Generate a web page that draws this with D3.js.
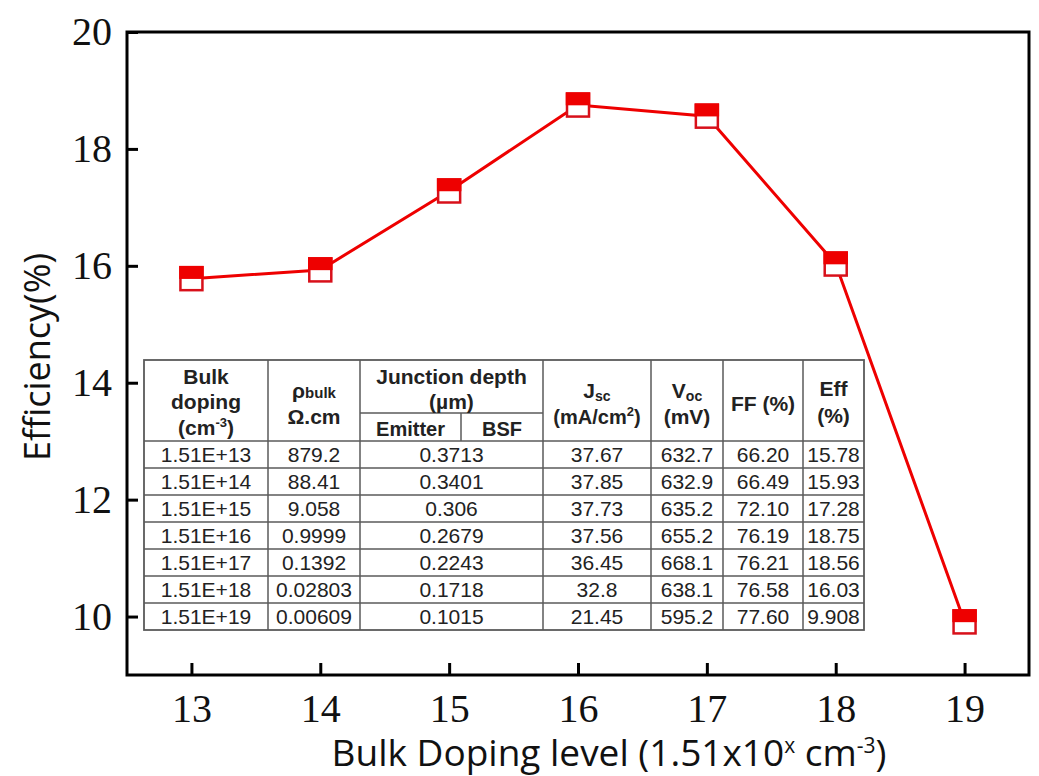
<!DOCTYPE html>
<html>
<head>
<meta charset="utf-8">
<script src="https://cdn.jsdelivr.net/npm/d3@7"></script>
<style>
  html, body { margin: 0; padding: 0; background: #fff; }
  svg { display: block; }
</style>
</head>
<body>
<svg id="chart" width="1039" height="776"></svg>
<script>
// ---- data ----
const dopingLevels = [13, 14, 15, 16, 17, 18, 19];
const efficiency   = [15.78, 15.93, 17.28, 18.75, 18.56, 16.03, 9.908];
const xTicks = [13, 14, 15, 16, 17, 18, 19];
const yTicks = [10, 12, 14, 16, 18, 20];

const bulkDoping = ["1.51E+13", "1.51E+14", "1.51E+15", "1.51E+16", "1.51E+17", "1.51E+18", "1.51E+19"];
const rhoBulk    = ["879.2", "88.41", "9.058", "0.9999", "0.1392", "0.02803", "0.00609"];
const junctionDepth = ["0.3713", "0.3401", "0.306", "0.2679", "0.2243", "0.1718", "0.1015"];
const jsc = ["37.67", "37.85", "37.73", "37.56", "36.45", "32.8", "21.45"];
const voc = ["632.7", "632.9", "635.2", "655.2", "668.1", "638.1", "595.2"];
const ff  = ["66.20", "66.49", "72.10", "76.19", "76.21", "76.58", "77.60"];
const effText = ["15.78", "15.93", "17.28", "18.75", "18.56", "16.03", "9.908"];

// ---- layout ----
const svg = d3.select("#chart");
const L = 127, R = 1029, T = 32, B = 675;
const red = "#ee0000";

const x = d3.scaleLinear().domain([12.5, 19.5]).range([L, R]);
const y = d3.scaleLinear().domain([9, 20]).range([B, T]);

// frame
svg.append("rect").attr("x", L).attr("y", T).attr("width", R - L).attr("height", B - T)
  .attr("fill", "none").attr("stroke", "#000").attr("stroke-width", 3);

// axes
const xAxis = d3.axisBottom(x).tickValues(xTicks).tickSizeInner(-12).tickSizeOuter(0).tickPadding(19).tickFormat(d3.format("d"));
const gx = svg.append("g").attr("transform", `translate(0,${B})`).call(xAxis);
gx.select(".domain").remove();
gx.selectAll(".tick line").attr("stroke", "#000").attr("stroke-width", 3);
gx.selectAll(".tick text").attr("font-family", "'Liberation Serif', 'Times New Roman', serif")
  .attr("font-size", 40).attr("fill", "#111");

const yAxis = d3.axisLeft(y).tickValues(yTicks).tickSizeInner(-11).tickSizeOuter(0).tickPadding(15).tickFormat(d3.format("d"));
const gy = svg.append("g").attr("transform", `translate(${L},0)`).call(yAxis);
gy.select(".domain").remove();
gy.selectAll(".tick line").attr("stroke", "#000").attr("stroke-width", 3);
gy.selectAll(".tick text").attr("font-family", "'Liberation Serif', 'Times New Roman', serif")
  .attr("font-size", 40).attr("fill", "#111");

// axis titles
svg.append("text")
  .attr("transform", `translate(50,${357}) rotate(-90)`)
  .attr("text-anchor", "middle")
  .attr("font-family", "'Open Sans', sans-serif").attr("font-size", 36).attr("fill", "#111")
  .text("Efficiency(%)");

const xt = svg.append("text")
  .attr("x", 609).attr("y", 766)
  .attr("text-anchor", "middle")
  .attr("font-family", "'Open Sans', sans-serif").attr("font-size", 37).attr("fill", "#111");
xt.append("tspan").text("Bulk Doping level (1.51x10");
xt.append("tspan").attr("dy", -13).attr("font-size", 21).text("x");
xt.append("tspan").attr("dy", 13).text(" cm");
xt.append("tspan").attr("dy", -13).attr("font-size", 21).text("-3");
xt.append("tspan").attr("dy", 13).text(")");

// line
const pts = dopingLevels.map((d, i) => [d, efficiency[i]]);
svg.append("path").datum(pts)
  .attr("d", d3.line().x(d => x(d[0])).y(d => y(d[1])))
  .attr("fill", "none").attr("stroke", red).attr("stroke-width", 3);

// markers
const mk = svg.append("g").selectAll("g").data(pts).join("g")
  .attr("transform", d => `translate(${x(d[0])},${y(d[1])})`);
mk.append("rect").attr("x", -11).attr("y", -11.5).attr("width", 22).attr("height", 23)
  .attr("fill", "#fff").attr("stroke", "#d8101a").attr("stroke-width", 2.5);
mk.append("rect").attr("x", -12.25).attr("y", -12.75).attr("width", 24.5).attr("height", 13)
  .attr("fill", red);

// ---- table ----
const tb = svg.append("g");
const colX = [144, 268, 360, 461, 543, 651, 723, 803, 864];
const tTop = 360, tSub = 413, tHead = 441, rowH = 27, nRows = bulkDoping.length;
const tBot = tHead + rowH * nRows;
const lineCol = "#5a5a5a";
tb.append("rect").attr("x", colX[0]).attr("y", tTop).attr("width", colX[8] - colX[0]).attr("height", tBot - tTop)
  .attr("fill", "#fff").attr("stroke", lineCol).attr("stroke-width", 1.8);
// vertical lines (full)
[1, 2, 4, 5, 6, 7].forEach(i => {
  tb.append("line").attr("x1", colX[i]).attr("x2", colX[i]).attr("y1", tTop).attr("y2", tBot)
    .attr("stroke", lineCol).attr("stroke-width", 1.5);
});
// Emitter/BSF divider (header only)
tb.append("line").attr("x1", colX[3]).attr("x2", colX[3]).attr("y1", tSub).attr("y2", tHead)
  .attr("stroke", lineCol).attr("stroke-width", 1.5);
tb.append("line").attr("x1", colX[2]).attr("x2", colX[4]).attr("y1", tSub).attr("y2", tSub)
  .attr("stroke", lineCol).attr("stroke-width", 1.5);
// horizontal row lines
d3.range(nRows).forEach(r => {
  const yy = tHead + r * rowH;
  tb.append("line").attr("x1", colX[0]).attr("x2", colX[8]).attr("y1", yy).attr("y2", yy)
    .attr("stroke", lineCol).attr("stroke-width", 1.5);
});

const hfont = "'Liberation Sans', Arial, sans-serif";
function htext(cx, by, parts, size) {
  const t = tb.append("text").attr("x", cx).attr("y", by).attr("text-anchor", "middle")
    .attr("font-family", hfont).attr("font-weight", "bold").attr("font-size", size || 21).attr("fill", "#222");
  parts.forEach(p => {
    const s = t.append("tspan").text(p.t);
    if (p.size) s.attr("font-size", p.size);
    if (p.dy) s.attr("dy", p.dy);
  });
  return t;
}
const c = i => (colX[i] + colX[i + 1]) / 2;
htext(c(0), 384, [{t: "Bulk"}]);
htext(c(0), 409, [{t: "doping"}]);
htext(c(0), 435, [{t: "(cm"}, {t: "-3", size: 13, dy: -8}, {t: ")", dy: 8}]);
htext(c(1), 398, [{t: "ρ"}, {t: "bulk", size: 15}]);
htext(c(1), 424, [{t: "Ω.cm"}]);
htext((colX[2] + colX[4]) / 2, 384, [{t: "Junction depth"}]);
htext((colX[2] + colX[4]) / 2, 409, [{t: "(µm)"}]);
htext(c(2), 436, [{t: "Emitter"}], 20);
htext(c(3), 436, [{t: "BSF"}], 20);
htext(c(4), 398, [{t: "J"}, {t: "sc", size: 14, dy: 3}]);
htext(c(4), 424, [{t: "(mA/cm"}, {t: "2", size: 13, dy: -8}, {t: ")", dy: 8}], 20);
htext(c(5), 398, [{t: "V"}, {t: "oc", size: 14, dy: 3}]);
htext(c(5), 424, [{t: "(mV)"}]);
htext(c(6), 411, [{t: "FF (%)"}]);
htext(c(7), 396, [{t: "Eff"}]);
htext(c(7), 423, [{t: "(%)"}]);

const cols = [
  {cx: c(0), vals: bulkDoping},
  {cx: c(1), vals: rhoBulk},
  {cx: (colX[2] + colX[4]) / 2, vals: junctionDepth},
  {cx: c(4), vals: jsc},
  {cx: c(5), vals: voc},
  {cx: c(6), vals: ff},
  {cx: c(7), vals: effText}
];
cols.forEach(col => {
  tb.append("g").selectAll("text").data(col.vals).join("text")
    .attr("x", col.cx).attr("y", (d, i) => tHead + i * rowH + 21)
    .attr("text-anchor", "middle")
    .attr("font-family", hfont).attr("font-size", 21).attr("fill", "#222")
    .text(d => d);
});
</script>
</body>
</html>
